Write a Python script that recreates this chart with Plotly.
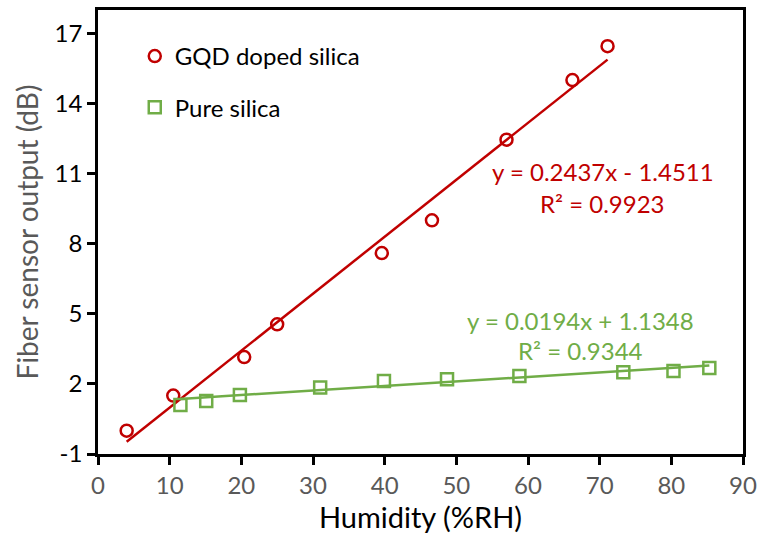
import plotly.graph_objects as go

# ---- data ----
gqd_x = [4.0, 10.5, 20.4, 25.0, 39.6, 46.6, 57.0, 66.2, 71.1]
gqd_y = [0.0, 1.5, 3.15, 4.55, 7.6, 9.0, 12.45, 15.0, 16.45]
pure_x = [11.5, 15.1, 19.8, 31.0, 39.9, 48.7, 58.8, 73.3, 80.3, 85.3]
pure_y = [1.1, 1.27, 1.52, 1.85, 2.12, 2.2, 2.34, 2.5, 2.55, 2.68]
gqd_fit = [0.2437, -1.4511]    # slope, intercept
gqd_r2 = 0.9923
pure_fit = [0.0194, 1.1348]
pure_r2 = 0.9344
x_ticks = [0, 10, 20, 30, 40, 50, 60, 70, 80, 90]
y_ticks = [-1, 2, 5, 8, 11, 14, 17]
y_tick_text = ["-1", "2", "5", "8", "11", "14", "17"]

RED = "#C00000"
GREEN = "#70AD47"
FONT = "Lato"

def fit_line(xs, coef):
    x0, x1 = min(xs), max(xs)
    return [x0, x1], [coef[0] * x0 + coef[1], coef[0] * x1 + coef[1]]

fig = go.Figure()

gx, gy = fit_line(gqd_x, gqd_fit)
px_, py_ = fit_line(pure_x, pure_fit)

fig.add_trace(go.Scatter(x=gx, y=gy, mode="lines", line=dict(color=RED, width=2.5),
                         showlegend=False, hoverinfo="skip"))
fig.add_trace(go.Scatter(x=px_, y=py_, mode="lines", line=dict(color=GREEN, width=2.5),
                         showlegend=False, hoverinfo="skip"))

fig.add_trace(go.Scatter(x=gqd_x, y=gqd_y, mode="markers", name="GQD doped silica",
                         legendgroup="a",
                         marker=dict(symbol="circle-open", size=12, color=RED,
                                     line=dict(color=RED, width=2.5))))
fig.add_trace(go.Scatter(x=pure_x, y=pure_y, mode="markers", name="Pure silica",
                         legendgroup="b",
                         marker=dict(symbol="square-open", size=12, color=GREEN,
                                     line=dict(color=GREEN, width=2.5))))

def sign_str(v):
    return ("- " if v < 0 else "+ ") + f"{abs(v):.4f}"

ann = [
    dict(x=70.4, y=11.07, text=f"y = {gqd_fit[0]:.4f}x {sign_str(gqd_fit[1])}", color=RED),
    dict(x=70.4, y=9.74, text=f"R² = {gqd_r2:.4f}", color=RED),
    dict(x=67.3, y=4.73, text=f"y = {pure_fit[0]:.4f}x {sign_str(pure_fit[1])}", color=GREEN),
    dict(x=67.3, y=3.41, text=f"R² = {pure_r2:.4f}", color=GREEN),
]
for a in ann:
    fig.add_annotation(x=a["x"], y=a["y"], text=a["text"], showarrow=False,
                       xanchor="center", yanchor="middle",
                       font=dict(family=FONT, size=24, color=a["color"]))

fig.update_layout(
    width=759, height=535,
    margin=dict(l=98, r=16, t=10, b=81, autoexpand=False),
    paper_bgcolor="white", plot_bgcolor="white",
    font=dict(family=FONT, size=24, color="black"),
    legend=dict(x=0.057, y=0.946, xanchor="left", yanchor="top",
                bgcolor="rgba(0,0,0,0)", tracegroupgap=17,
                font=dict(family=FONT, size=24, color="black"),
                itemwidth=30),
    xaxis=dict(range=[0, 90], tickvals=x_ticks, showgrid=False, zeroline=False,
               automargin=False,
               showline=True, linecolor="black", linewidth=2.5, mirror=True,
               ticks="outside", ticklen=8, tickwidth=2.5, tickcolor="black",
               tickfont=dict(family=FONT, size=24, color="#595959"),
               title=dict(text="Humidity (%RH)", standoff=8,
                          font=dict(family=FONT, size=29, color="black"))),
    yaxis=dict(range=[-1, 18], tickvals=y_ticks, ticktext=y_tick_text,
               showgrid=False, zeroline=False, automargin=False,
               showline=True, linecolor="black", linewidth=2.5, mirror=True,
               ticks="outside", ticklen=8, tickwidth=2.5, tickcolor="black",
               tickfont=dict(family=FONT, size=24, color="black"),
               title=dict(text="Fiber sensor output (dB)", standoff=8,
                          font=dict(family=FONT, size=28, color="#595959"))),
)

fig.write_html("out.html")
